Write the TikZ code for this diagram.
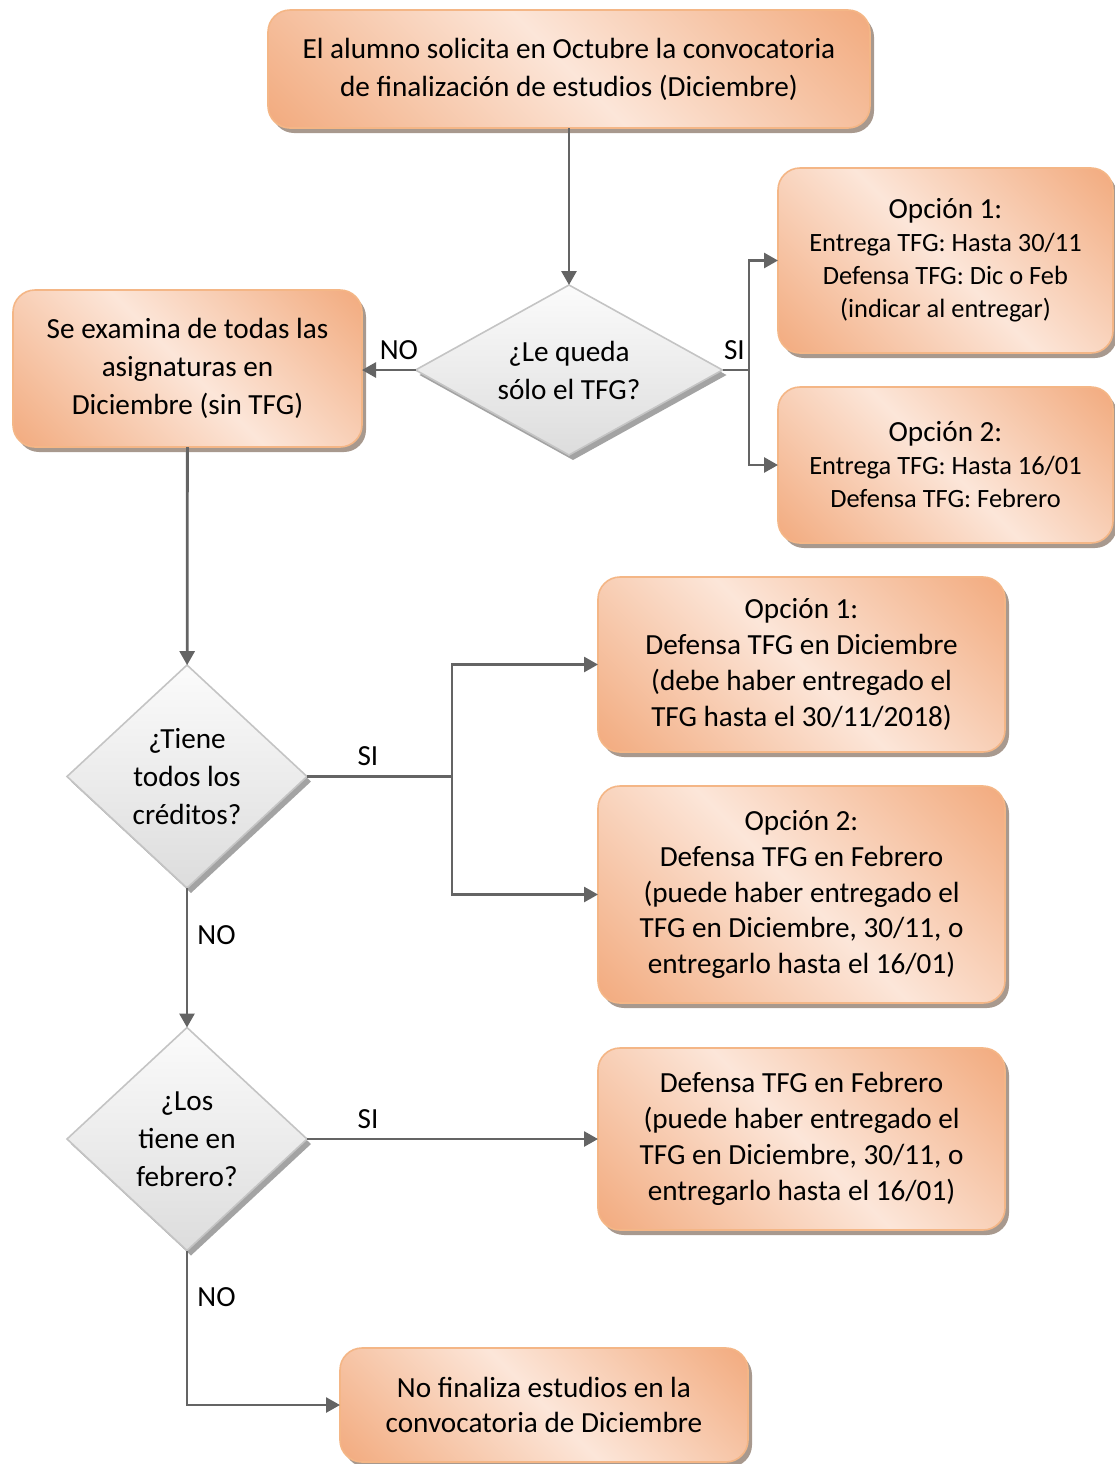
\documentclass[tikz,border=0pt]{standalone}
\usepackage{fontspec}
\setmainfont{Carlito}
\usetikzlibrary{shapes.geometric,shadows,arrows.meta}

\definecolor{orDark}{HTML}{F2AB7F}
\definecolor{orLight}{HTML}{FCE6D9}
\definecolor{orLine}{HTML}{F4B686}
\definecolor{orShadow}{HTML}{A8998E}
\definecolor{dmLine}{HTML}{C4C4C4}
\definecolor{dmShadow}{HTML}{A3A3A3}
\definecolor{lnGray}{HTML}{646464}

\pgfdeclarehorizontalshading{boxshade}{100bp}{color(0bp)=(orDark); color(15bp)=(orDark); color(50bp)=(orLight); color(85bp)=(orDark); color(100bp)=(orDark)}

\tikzset{
	paso/.style={rectangle, rounded corners=11pt, draw=orLine, line width=0.8pt,
		shading=boxshade, shading angle=45,
		drop shadow={shadow xshift=2pt, shadow yshift=-2.5pt, fill=orShadow, opacity=1},
		align=center, inner sep=0pt, outer sep=0pt, font=\fontsize{14.6}{19}\selectfont},
	opcion/.style={paso, font=\fontsize{14.6}{17.9}\selectfont},
	opcionchica/.style={paso, font=\fontsize{13.2}{16.5}\selectfont},
	pregunta/.style={diamond, shape aspect=1, draw=dmLine, line width=0.8pt,
		top color=gray!3, bottom color=gray!27,
		drop shadow={shadow xshift=2pt, shadow yshift=-2.5pt, fill=dmShadow, opacity=1},
		align=center, inner sep=0pt, outer sep=0pt, font=\fontsize{14.6}{19}\selectfont},
	conn/.style={draw=lnGray, line width=1.4pt, -{Triangle[length=7pt,width=7.5pt]}},
	lbl/.style={font=\fontsize{14.6}{17}\selectfont, inner sep=4.5pt}
}

\begin{document}
\begin{tikzpicture}[x=0.5pt, y=-0.5pt]
			%%%%% START %%%%%
			\useasboundingbox (0,0) rectangle (1115,1464);
			
			% inicio
			\node[paso, minimum width=301pt, minimum height=59pt] (sol) at (569,69)
				{El alumno solicita en Octubre la convocatoria\\de finalización de estudios (Diciembre)};
			\node[pregunta, shape aspect=1.8, minimum width=153.5pt, minimum height=85pt] (soloTFG) at (569,370)
				{¿Le queda\\sólo el TFG?};
			\node[paso, minimum width=174.5pt, minimum height=78.5pt] (examina) at (187.5,368.5)
				{Se examina de todas las\\asignaturas en\\Diciembre (sin TFG)};
			
			% opciones si solo queda el TFG
			\node[opcionchica, minimum width=167.5pt, minimum height=92.5pt] (opA) at (945.5,260.5)
				{{\fontsize{14.6}{16.5}\selectfont Opción 1:}\\Entrega TFG: Hasta 30/11\\Defensa TFG: Dic o Feb\\(indicar al entregar)};
			\node[opcionchica, minimum width=167.5pt, minimum height=78pt] (opB) at (945.5,465)
				{{\fontsize{14.6}{16.5}\selectfont Opción 2:}\\Entrega TFG: Hasta 16/01\\Defensa TFG: Febrero};
			
			% creditos
			\node[pregunta, minimum width=120pt, minimum height=111.5pt] (creditos) at (187,776.5)
				{¿Tiene\\todos los\\créditos?};
			\node[opcion, minimum width=203.5pt, minimum height=87.5pt] (defDic) at (801.5,664.5)
				{Opción 1:\\Defensa TFG en Diciembre\\(debe haber entregado el\\TFG hasta el 30/11/2018)};
			\node[opcion, minimum width=203.5pt, minimum height=108.5pt] (defFeb) at (801.5,894.5)
				{Opción 2:\\Defensa TFG en Febrero\\(puede haber entregado el\\TFG en Diciembre, 30/11, o\\entregarlo hasta el 16/01)};
			
			% febrero
			\node[pregunta, minimum width=120pt, minimum height=111.5pt] (febrero) at (187,1139)
				{¿Los\\tiene en\\febrero?};
			\node[opcion, minimum width=203.5pt, minimum height=91pt] (defFebB) at (801.5,1139)
				{Defensa TFG en Febrero\\(puede haber entregado el\\TFG en Diciembre, 30/11, o\\entregarlo hasta el 16/01)};
			\node[opcion, minimum width=204pt, minimum height=57pt] (noFin) at (544,1405)
				{No finaliza estudios en la\\convocatoria de Diciembre};
			
			% conectores
			\coordinate (r1) at (749,370);
			\coordinate (r2) at (452,776.5);
			
			\draw[conn] (sol) -- (soloTFG);
			\draw[conn] (soloTFG.west) -- node[lbl, above, pos=0.31]{NO} (soloTFG.west -| examina.east);
			\draw[conn] (soloTFG.east) -- node[lbl, above, pos=0.45]{SI} (r1) |- (opA.west);
			\draw[conn] (r1) |- (opB.west);
			
			\draw[conn] (examina) -- (creditos);
			\draw[conn] (creditos.east) -- node[lbl, above, pos=0.42]{SI} (r2) |- (defDic.west);
			\draw[conn] (r2) |- (defFeb.west);
			\draw[conn] (creditos) -- node[lbl, right, pos=0.34]{NO} (febrero);
			
			\draw[conn] (febrero.east) -- node[lbl, above, pos=0.21]{SI} (defFebB.west);
			\draw[conn] (febrero.south) -- node[lbl, right, pos=0.3]{NO} (febrero.south |- noFin.west) -- (noFin.west);
			
			%%%%% END %%%%%
		\end{tikzpicture}
\end{document}
